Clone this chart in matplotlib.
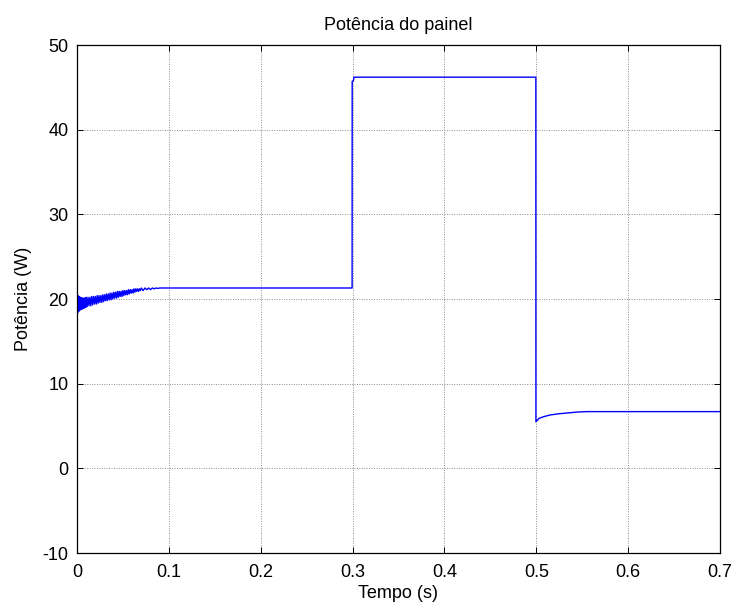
import matplotlib
matplotlib.use("Agg")
import matplotlib.pyplot as plt

plt.rcParams["font.family"] = ["Liberation Sans", "DejaVu Sans"]
plt.rcParams["axes.unicode_minus"] = False

# start-up transient (switching ripple)
t_start = [0.0, 0.0, 0.0005, 0.001, 0.0015, 0.002, 0.0025, 0.003, 0.0035,
           0.004, 0.0045, 0.005, 0.0055, 0.006, 0.0065, 0.007, 0.0075,
           0.008, 0.0085, 0.009, 0.0095, 0.010, 0.011, 0.012, 0.013, 0.014,
           0.015, 0.016, 0.017, 0.018, 0.019, 0.020, 0.021, 0.022, 0.023,
           0.024, 0.025, 0.026, 0.027, 0.028, 0.029, 0.030, 0.031, 0.032,
           0.033, 0.034, 0.035, 0.036, 0.037, 0.038, 0.039, 0.040, 0.041,
           0.042, 0.043, 0.044, 0.045, 0.046, 0.047, 0.048, 0.049, 0.050,
           0.051, 0.052, 0.053, 0.054, 0.055, 0.056, 0.057, 0.058, 0.059,
           0.060, 0.061, 0.062, 0.063, 0.064, 0.065, 0.066, 0.067, 0.068,
           0.069, 0.070, 0.072, 0.074, 0.076, 0.078, 0.080, 0.082, 0.084,
           0.086, 0.088, 0.090]
p_start = [0.0, 21.0, 18.3, 20.4, 18.5, 20.3, 18.6, 20.2, 18.7,
           20.2, 18.8, 20.1, 18.8, 20.1, 18.9, 20.1, 18.9,
           20.1, 19.0, 20.1, 19.0, 20.2, 19.1, 20.2, 19.2, 20.2,
           19.2, 20.3, 19.3, 20.3, 19.4, 20.3, 19.4, 20.4, 19.5,
           20.4, 19.6, 20.4, 19.6, 20.5, 19.7, 20.5, 19.8, 20.6,
           19.8, 20.6, 19.9, 20.7, 19.9, 20.7, 20.0, 20.8, 20.1,
           20.8, 20.1, 20.9, 20.2, 20.9, 20.3, 20.9, 20.3, 21.0,
           20.4, 21.0, 20.5, 21.0, 20.5, 21.1, 20.6, 21.1, 20.7,
           21.1, 20.7, 21.2, 20.8, 21.2, 20.9, 21.2, 20.9, 21.2,
           21.0, 21.3, 21.0, 21.3, 21.1, 21.3, 21.1, 21.3, 21.2,
           21.3, 21.25, 21.3]

# steps at 0.3 s and 0.5 s
t_rest = [0.2995, 0.2996, 0.301, 0.3015, 0.306, 0.4995, 0.4996,
          0.503, 0.508, 0.515, 0.525, 0.535, 0.545, 0.555, 0.7]
p_rest = [21.3, 45.7, 45.8, 46.2, 46.2, 46.2, 5.5,
          5.9, 6.1, 6.3, 6.45, 6.55, 6.65, 6.7, 6.7]

t = t_start + t_rest
p = p_start + p_rest

x_ticks = [0, 0.1, 0.2, 0.3, 0.4, 0.5, 0.6, 0.7]
y_ticks = [-10, 0, 10, 20, 30, 40, 50]

fig = plt.figure(figsize=(7.37, 6.08), dpi=100)
ax = fig.add_axes([77 / 737, 1 - 553 / 608, (720 - 77) / 737, (553 - 45) / 608])

ax.plot(t, p, color="#0000ff", linewidth=1.0)

ax.set_xlim(0, 0.7)
ax.set_ylim(-10, 50)
ax.set_xticks(x_ticks)
ax.set_xticklabels([f"{v:g}" for v in x_ticks])
ax.set_yticks(y_ticks)
ax.grid(True, color="#8c8c8c", linestyle=(0, (1, 1.5)), linewidth=0.7)
ax.tick_params(direction="in", top=True, right=True, length=4,
               labelsize=13, width=0.7)
ax.tick_params(axis="x", pad=8)
ax.tick_params(axis="y", pad=6)
for s in ax.spines.values():
    s.set_linewidth(0.9)

ax.set_title("Potência do painel", fontsize=13, pad=11)
ax.set_xlabel("Tempo (s)", fontsize=13, labelpad=3)
ax.set_ylabel("Potência (W)", fontsize=13, labelpad=8)

fig.savefig("out.png", dpi=100)
